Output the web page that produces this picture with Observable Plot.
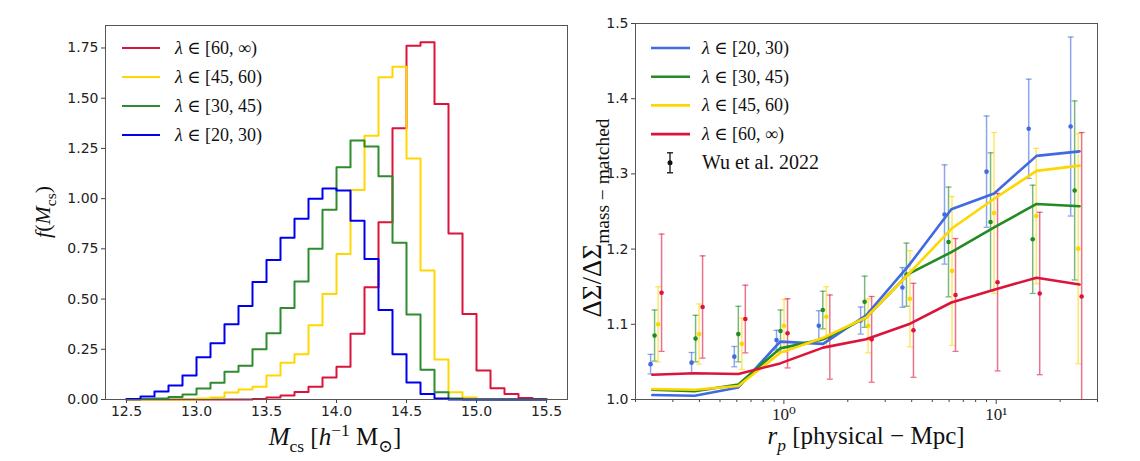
<!DOCTYPE html>
<html><head><meta charset="utf-8">
<script src="https://cdn.jsdelivr.net/npm/d3@7"></script>
<script src="https://cdn.jsdelivr.net/npm/@observablehq/plot@0.6"></script>
<style>
body{margin:0;background:#fff;}
#fig{position:relative;width:1140px;height:461px;overflow:hidden;background:#fff;}
#left,#right{position:absolute;top:0;}
#left{left:0;} #right{left:570px;}
</style></head><body>
<div id="fig"><div id="left"></div><div id="right"></div></div>
<script>
// ---------- Left panel: mass distributions ----------
const massBins = [12.5,12.6,12.7,12.8,12.9,13.0,13.1,13.2,13.3,13.4,13.5,13.6,13.7,13.8,13.9,14.0,14.1,14.2,14.3,14.4,14.5,14.6,14.7,14.8,14.9,15.0,15.1,15.2,15.3,15.4];
const binWidth = 0.1;
const histBlue   = [0.003,0.015,0.04,0.07,0.12,0.21,0.28,0.375,0.465,0.585,0.695,0.805,0.90,1.00,1.05,1.04,0.89,0.70,0.445,0.225,0.085,0.028,0.005,0,0,0,0,0,0,0];
const histGreen  = [0,0.003,0.005,0.013,0.025,0.055,0.083,0.138,0.168,0.25,0.33,0.455,0.587,0.75,0.945,1.156,1.289,1.26,1.111,0.78,0.423,0.148,0.036,0.005,0,0,0,0,0,0];
const histYellow = [0,0,0,0,0,0.005,0.01,0.035,0.05,0.063,0.12,0.183,0.225,0.37,0.525,0.725,1.043,1.313,1.604,1.657,1.2,0.642,0.199,0.036,0.01,0,0,0,0,0];
const histRed    = [0,0,0,0,0,0,0,0,0,0.003,0.01,0.02,0.037,0.063,0.11,0.163,0.327,0.559,0.882,1.35,1.761,1.778,1.471,0.827,0.426,0.144,0.056,0.028,0.008,0.003];
const massTicks = [12.5,13.0,13.5,14.0,14.5,15.0,15.5];
const fTicks = [0,0.25,0.5,0.75,1.0,1.25,1.5,1.75];
const histLabels = ["60, ∞)", "45, 60)", "30, 45)", "20, 30)"];

// ---------- Right panel: lensing ratio ----------
const rModel = [0.24,0.38,0.61,0.96,1.53,2.44,3.87,6.15,9.78,15.5,24.7];
const modelBlue   = [1.006,1.005,1.016,1.077,1.074,1.112,1.178,1.253,1.274,1.324,1.330];
const modelGreen  = [1.013,1.011,1.020,1.068,1.080,1.109,1.167,1.196,1.229,1.260,1.257];
const modelYellow = [1.014,1.013,1.018,1.062,1.082,1.109,1.167,1.227,1.267,1.304,1.311];
const modelRed    = [1.033,1.035,1.034,1.048,1.069,1.080,1.100,1.129,1.146,1.162,1.153];
const rWu = [0.25,0.39,0.62,0.98,1.55,2.44,3.84,6.06,9.56,15.1,23.8];
const wuBlue      = [1.047,1.049,1.057,1.079,1.098,1.105,1.149,1.246,1.303,1.360,1.363];
const wuBlueErr   = [0.013,0.0135,0.0135,0.013,0.020,0.018,0.0265,0.066,0.074,0.066,0.119];
const wuGreen     = [1.085,1.081,1.087,1.091,1.119,1.130,1.166,1.2095,1.236,1.213,1.278];
const wuGreenErr  = [0.034,0.031,0.037,0.028,0.025,0.034,0.042,0.073,0.092,0.072,0.119];
const wuYellow    = [1.100,1.087,1.074,1.098,1.110,1.098,1.134,1.171,1.248,1.244,1.2006];
const wuYellowErr = [0.050,0.040,0.034,0.035,0.040,0.036,0.064,0.099,0.107,0.090,0.153];
const wuRed       = [1.142,1.123,1.107,1.088,1.083,1.080,1.092,1.139,1.156,1.141,1.137];
const wuRedErr    = [0.078,0.068,0.045,0.046,0.056,0.057,0.0625,0.075,0.118,0.108,0.218];
const ratioTicks = [1.0,1.1,1.2,1.3,1.4,1.5];
const rMajor = [1,10];
const rMinor = [0.2,0.3,0.4,0.5,0.6,0.7,0.8,0.9,2,3,4,5,6,7,8,9,20,30];
const ratioLabels = ["20, 30)", "30, 45)", "45, 60)", "60, ∞)"];

// ---------- styles ----------
const leftColors = ["#dc143c", "#ffd700", "#2e8b2e", "#0000f0"]; // red, yellow, green, blue
const rightColors = ["#4169e1", "#228b22", "#ffd700", "#dc143c"]; // blue, green, yellow, red
const SANS = "DejaVu Sans";
const SERIF = "Liberation Serif, DejaVu Serif, serif";

function stepPoints(vals, key) {
  const pts = [{m: massBins[0], f: 0, s: key}];
  vals.forEach((v, i) => pts.push({m: massBins[i], f: v, s: key}));
  pts.push({m: massBins[massBins.length - 1] + binWidth, f: 0, s: key});
  return pts;
}
const leftSeries = [histRed, histYellow, histGreen, histBlue];

const left = Plot.plot({
  width: 570, height: 461,
  marginLeft: 105, marginRight: 3, marginTop: 25, marginBottom: 62,
  x: {domain: [12.35, 15.65], label: null},
  y: {domain: [0, 1.862], label: null},
  style: {fontFamily: SANS, fontSize: "14px", color: "#222", background: "white", overflow: "visible"},
  marks: [
    Plot.axisX({ticks: massTicks, tickFormat: d => d.toFixed(1), tickSize: 4, tickPadding: 3, label: null, stroke: "#444", fill: "#222", fontSize: 14}),
    Plot.axisY({ticks: fTicks, tickFormat: d => d.toFixed(2), tickSize: 4, tickPadding: 3, label: null, stroke: "#444", fill: "#222", fontSize: 14}),
    ...leftSeries.map((vals, i) => Plot.line(stepPoints(vals, i), {x: "m", y: "f", curve: "step-after", stroke: leftColors[i], strokeWidth: 2})),
    Plot.frame({stroke: "#555", strokeWidth: 1})
  ]
});
document.getElementById("left").appendChild(left);

const capSymbol = {draw(ctx, size) { const w = Math.sqrt(size / Math.PI); ctx.moveTo(-w, 0); ctx.lineTo(w, 0); }};
const wuSeries = [[wuBlue, wuBlueErr], [wuGreen, wuGreenErr], [wuYellow, wuYellowErr], [wuRed, wuRedErr]];
const modelSeries = [modelBlue, modelGreen, modelYellow, modelRed];
const pointDx = [-5.5, -1.5, 2, 5.5];

const errMarks = [];
wuSeries.forEach(([vals, errs], i) => {
  const data = vals.map((v, j) => ({r: rWu[j], v, lo: v - errs[j], hi: v + errs[j]}));
  errMarks.push(Plot.ruleX(data, {x: "r", y1: "lo", y2: "hi", dx: pointDx[i], stroke: rightColors[i], strokeOpacity: 0.6, strokeWidth: 1.5, clip: true}));
  errMarks.push(Plot.dot(data, {x: "r", y: "lo", dx: pointDx[i], symbol: capSymbol, r: 3, fill: "none", stroke: rightColors[i], strokeOpacity: 0.6, strokeWidth: 1.3, clip: true}));
  errMarks.push(Plot.dot(data, {x: "r", y: "hi", dx: pointDx[i], symbol: capSymbol, r: 3, fill: "none", stroke: rightColors[i], strokeOpacity: 0.6, strokeWidth: 1.3, clip: true}));
  errMarks.push(Plot.dot(data, {x: "r", y: "v", dx: pointDx[i], r: 2.3, fill: rightColors[i], stroke: "none"}));
});
const lineMarks = modelSeries.map((vals, i) => Plot.line(vals.map((v, j) => ({r: rModel[j], v})), {x: "r", y: "v", stroke: rightColors[i], strokeWidth: 2.6}));

const right = Plot.plot({
  width: 570, height: 461,
  marginLeft: 65, marginRight: 43, marginTop: 23, marginBottom: 62,
  x: {type: "log", domain: [0.2, 30], label: null},
  y: {domain: [1.0, 1.5], label: null},
  style: {fontFamily: SANS, fontSize: "14px", color: "#222", background: "white", overflow: "visible"},
  marks: [
    Plot.axisX({ticks: rMajor, tickFormat: d => d === 1 ? "10⁰" : "10¹", tickSize: 5, tickPadding: 3, label: null, stroke: "#444", fill: "#222", fontFamily: SERIF, fontSize: 17}),
    Plot.axisX({ticks: rMinor, tickFormat: () => "", tickSize: 3, label: null, stroke: "#444"}),
    Plot.axisY({ticks: ratioTicks, tickFormat: d => d.toFixed(1), tickSize: 4, tickPadding: 3, label: null, stroke: "#444", fill: "#222", fontSize: 14}),
    ...errMarks,
    ...lineMarks,
    Plot.frame({stroke: "#555", strokeWidth: 1})
  ]
});
document.getElementById("right").appendChild(right);

// ---------- rich text helper ----------
function rich(sel, parts, base, subScale = 0.7) {
  let shift = 0;
  for (const p of parts) {
    const target = p.sub ? 0.28 * base : p.sup ? -0.36 * base : 0;
    const ts = sel.append("tspan").text(p.t).attr("dy", target - shift);
    shift = target;
    if (p.sub || p.sup) ts.attr("font-size", base * subScale);
    if (p.it) ts.attr("font-style", "italic");
  }
  return sel;
}
function label(svg, x, y, parts, size, rotate, subScale) {
  const t = svg.append("text")
    .attr("font-family", SERIF).attr("font-size", size).attr("fill", "#111")
    .attr("text-anchor", "middle")
    .attr("transform", `translate(${x},${y})` + (rotate ? " rotate(-90)" : ""));
  rich(t, parts, size, subScale);
  return t;
}
function legendText(svg, x, y, parts, size = 18) {
  const t = svg.append("text").attr("x", x).attr("y", y).attr("text-anchor", "start")
    .attr("font-family", SERIF).attr("font-size", size).attr("fill", "#111");
  rich(t, parts, size);
  return t;
}

const L = d3.select(left);
label(L, 335, 445, [{t: "M", it: true}, {t: "cs", sub: true}, {t: " [", }, {t: "h", it: true}, {t: "−1", sup: true}, {t: " M"}, {t: "⊙", sub: true}, {t: "]"}], 25);
label(L, 50, 212, [{t: "f", it: true}, {t: "("}, {t: "M", it: true}, {t: "cs", sub: true}, {t: ")"}], 22, true);
// left legend
histLabels.forEach((lab, i) => {
  const y = 48 + i * 29;
  L.append("line").attr("x1", 122).attr("x2", 160).attr("y1", y).attr("y2", y).attr("stroke", leftColors[i]).attr("stroke-width", 2);
  legendText(L, 175, y + 6, [{t: "λ", it: true}, {t: " ∈ [" + lab}]);
});

const R = d3.select(right);
label(R, 296, 444, [{t: "r", it: true}, {t: "p", it: true, sub: true}, {t: " [physical − Mpc]"}], 25);
label(R, 31, 218, [{t: "ΔΣ/ΔΣ"}, {t: "mass − matched", sub: true}], 27, true, 0.72);
ratioLabels.forEach((lab, i) => {
  const y = 48 + i * 28.7;
  R.append("line").attr("x1", 81).attr("x2", 120).attr("y1", y).attr("y2", y).attr("stroke", rightColors[i]).attr("stroke-width", 2.6);
  legendText(R, 132, y + 6, [{t: "λ", it: true}, {t: " ∈ [" + lab}]);
});
{
  const y = 48 + 4 * 28.7;
  R.append("line").attr("x1", 100).attr("x2", 100).attr("y1", y - 10).attr("y2", y + 10).attr("stroke", "#111").attr("stroke-width", 1.3);
  R.append("line").attr("x1", 97).attr("x2", 103).attr("y1", y - 10).attr("y2", y - 10).attr("stroke", "#111").attr("stroke-width", 1.3);
  R.append("line").attr("x1", 97).attr("x2", 103).attr("y1", y + 10).attr("y2", y + 10).attr("stroke", "#111").attr("stroke-width", 1.3);
  R.append("circle").attr("cx", 100).attr("cy", y).attr("r", 2.5).attr("fill", "#111");
  legendText(R, 132, y + 6, [{t: "Wu et al. 2022"}], 20);
}
</script>
</body></html>
